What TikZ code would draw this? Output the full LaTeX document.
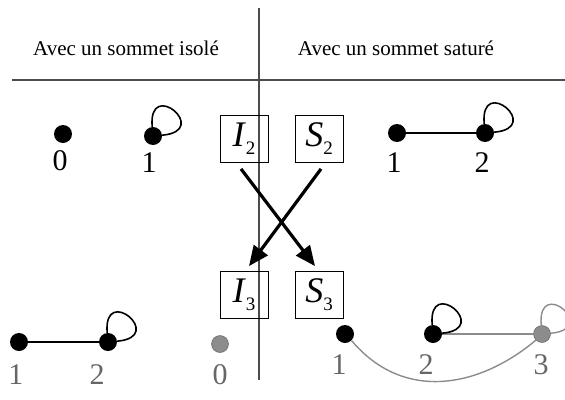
\documentclass[tikz,border=0pt]{standalone}
\usepackage{fontspec}
\setmainfont{Liberation Serif}
\usetikzlibrary{arrows.meta}
\tikzset{
  vtx/.style={circle,fill=black,inner sep=0pt,minimum size=18pt},
  gvtx/.style={circle,fill=black!45,draw=black!60,line width=0.5pt,inner sep=0pt,minimum size=17pt},
  lbl/.style={font=\rmfamily\fontsize{30}{32}\selectfont,inner sep=0pt},
  glbl/.style={font=\rmfamily\fontsize{30}{32}\selectfont,inner sep=0pt,text=black!60},
  hdr/.style={font=\rmfamily\fontsize{21}{24}\selectfont,inner sep=0pt},
  setbox/.style={draw=black,line width=0.8pt,minimum width=48pt,minimum height=47pt,inner sep=0pt,font=\rmfamily\fontsize{36}{38}\selectfont},
  rule/.style={draw=black!70,line width=1.1pt},
  edg/.style={line width=1.6pt},
  gedg/.style={line width=1.4pt,draw=black!45},
  bigarrow/.style={line width=3.2pt,-{Triangle[length=20pt,width=17pt]}},
}
\newcommand{\setlab}[2]{\textit{#1}\raisebox{-8pt}{\fontsize{19}{19}\selectfont #2}}
\begin{document}
\begin{tikzpicture}[x=1pt,y=1pt]
\useasboundingbox (0,0) rectangle (565,-399);
% frame lines
\coordinate (vt) at (259,-8);
\coordinate (vb) at (259,-380);
\coordinate (hl) at (12,-80);
\coordinate (hr) at (565,-80);
\draw[rule] (vt) -- (vb);
\draw[rule] (hl) -- (hr);
% headers
\node[hdr] (h1) at (126,-48) {Avec un sommet isolé};
\node[hdr] (h2) at (396,-48) {Avec un sommet saturé};
% top left
\node[vtx] (a0) at (63,-134) {};
\node[lbl] (la0) at (60,-161) {0};
\node[vtx] (a1) at (153,-136) {};
\node[lbl] (la1) at (149,-163) {1};
\draw[edg] (a1.95) .. controls +(95:50) and +(5:50) .. (a1.5);
% top right
\node[vtx] (b1) at (397,-133) {};
\node[vtx] (b2) at (485,-133) {};
\node[lbl] (lb1) at (394,-163) {1};
\node[lbl] (lb2) at (482,-163) {2};
\draw[edg] (b1) -- (b2);
\draw[edg] (b2.95) .. controls +(95:50) and +(5:50) .. (b2.5);
% boxes
\node[setbox] (I2) at (244,-139) {\setlab{I}{2}};
\node[setbox] (S2) at (319,-139) {\setlab{S}{2}};
\node[setbox] (I3) at (244,-295) {\setlab{I}{3}};
\node[setbox] (S3) at (319,-295) {\setlab{S}{3}};
\draw[bigarrow] ([xshift=-3pt,yshift=-6pt]I2.south) -- ([xshift=-4pt,yshift=5pt]S3.north);
\draw[bigarrow] ([xshift=2pt,yshift=-6pt]S2.south) -- ([xshift=5pt,yshift=5pt]I3.north);
% bottom left
\node[vtx] (c1) at (19,-342) {};
\node[vtx] (c2) at (108,-342) {};
\node[gvtx] (c0) at (220,-344) {};
\node[glbl] (lc1) at (16,-375) {1};
\node[glbl] (lc2) at (97,-375) {2};
\node[glbl] (lc0) at (220,-375) {0};
\draw[edg] (c1) -- (c2);
\draw[edg] (c2.95) .. controls +(95:50) and +(5:50) .. (c2.5);
% bottom right
\node[vtx] (d1) at (345,-334) {};
\node[vtx] (d2) at (433,-334) {};
\node[gvtx] (d3) at (542,-334) {};
\node[glbl] (ld1) at (339,-365) {1};
\node[glbl] (ld2) at (426,-365) {2};
\node[glbl] (ld3) at (541,-365) {3};
\draw[gedg] (d2) -- (d3);
\draw[gedg] (d1.-45) .. controls +(-50:80) and +(-140:75) .. (d3.-135);
\draw[edg] (d2.95) .. controls +(95:50) and +(5:50) .. (d2.5);
\draw[gedg] (d3.95) .. controls +(95:50) and +(5:50) .. (d3.5);
\end{tikzpicture}
\end{document}
